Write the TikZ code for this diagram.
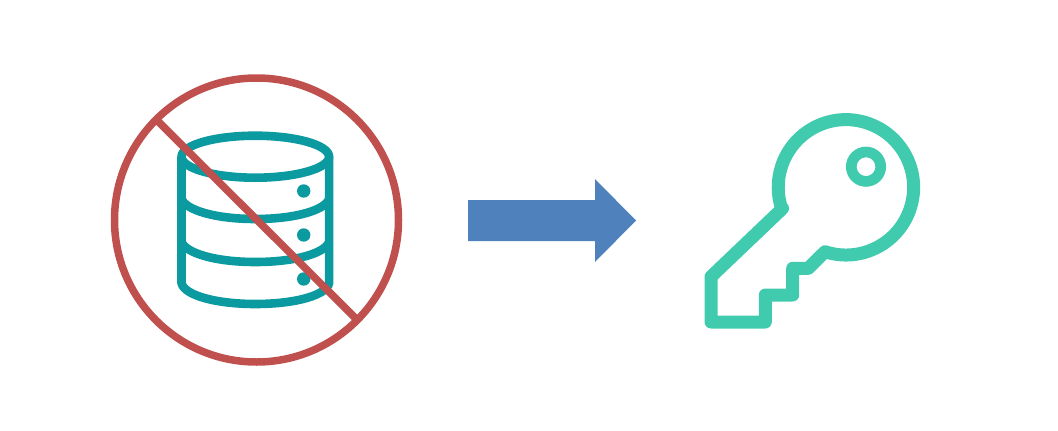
\documentclass[tikz,border=0pt]{standalone}
\definecolor{banred}{HTML}{C0504D}
\definecolor{dbteal}{HTML}{0B9A9F}
\definecolor{arrowblue}{HTML}{4F81BD}
\definecolor{keygreen}{HTML}{41CBAE}
\tikzset{
  dbline/.style={draw=dbteal,line width=8.6pt,line join=round},
  dbdot/.style={fill=dbteal},
  banline/.style={draw=banred,line width=7.5pt},
  keyline/.style={draw=keygreen,line width=13pt,line join=round}
}
\begin{document}
\begin{tikzpicture}[x=1pt,y=1pt,yscale=-1]
\useasboundingbox (0,0) rectangle (1058,431);
% database
\draw[dbline] (255.3,156.7) ellipse [x radius=73.8, y radius=21];
\draw[dbline] (181.5,156.7) -- (181.5,283)
  .. controls (184,295) and (215,304) .. (255.3,304)
  .. controls (296,304) and (327,295) .. (329.1,283) -- (329.1,156.7);
\draw[dbline] (181.5,199) .. controls (186,210) and (215,219) .. (255.3,219)
  .. controls (296,219) and (325,210) .. (329.1,199);
\draw[dbline] (181.5,242) .. controls (186,253) and (215,262) .. (255.3,262)
  .. controls (296,262) and (325,253) .. (329.1,242);
\fill[dbdot] (303.7,191) circle [radius=6.7];
\fill[dbdot] (303.7,235) circle [radius=6.7];
\fill[dbdot] (303.7,279) circle [radius=6.7];
% prohibition sign
\draw[banline] (256.5,220) circle [radius=142];
\draw[banline] (156.2,119.5) -- (356.8,319.5);
% arrow
\fill[arrowblue] (468,200) -- (595,200) -- (595,179) -- (636,220.5) -- (595,262) -- (595,241) -- (468,241) -- cycle;
% key
\draw[keyline] (782.7,208.3) -- (711,276.7) -- (711,322) -- (765.3,322) -- (765.3,295)
  -- (792.7,295) -- (792.7,268.3) -- (808.3,268.3) -- (825,251.7)
  arc [start angle=108, end angle=-198.3, radius=67.7] -- cycle;
\draw[keygreen,line width=10.7pt] (866,166.7) circle [radius=14.7];
\end{tikzpicture}
\end{document}
